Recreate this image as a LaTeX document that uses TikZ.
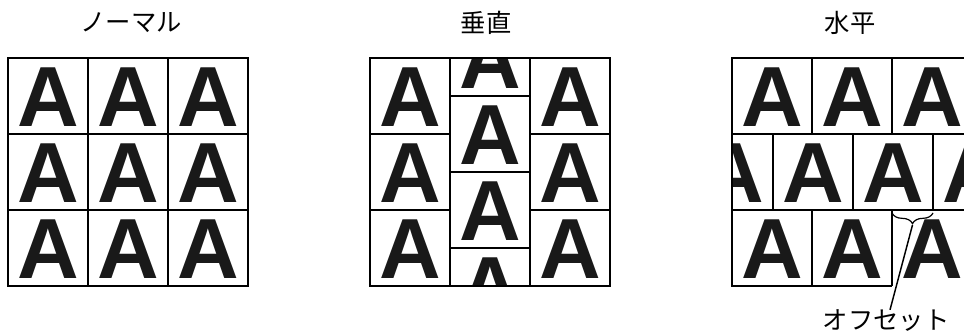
\documentclass[tikz,border=0pt]{standalone}
\usepackage{fontspec}
\setmainfont{Liberation Sans}
\newfontfamily\jpfont{Noto Sans CJK JP}
\newfontfamily\glyphfont{Liberation Sans}
\usetikzlibrary{decorations.pathreplacing}
\tikzset{
  gridline/.style={line width=0.8pt, black},
  bigA/.style={anchor=base, inner sep=0pt, outer sep=0pt, font=\glyphfont\bfseries\fontsize{64}{64}\selectfont, text=black!90},
  title/.style={font=\jpfont\fontsize{19}{19}\selectfont, inner sep=0pt},
  bracestyle/.style={decorate, decoration={brace, amplitude=8pt}, line width=0.9pt},
  pointer/.style={line width=1.1pt}
}
\newcommand{\PutA}[3]{\node[bigA] (#1) at (#2,#3) {A};}
\begin{document}
\begin{tikzpicture}[x=0.75pt,y=-0.75pt]
\useasboundingbox (0,0) rectangle (964,331);

% titles
\node[title] (t1) at (131,23) {ノーマル};
\node[title] (t2) at (486,23) {垂直};
\node[title] (t3) at (850,23) {水平};

% ---------- normal ----------
\foreach \i/\cx in {1/48,2/128,3/208}{
  \foreach \j/\by in {1/127,2/203,3/279}{
    \PutA{n\i\j}{\cx}{\by}
  }
}
\draw[gridline] (8,58) rectangle (248,286);
\draw[gridline] (88,58) -- (88,286) (168,58) -- (168,286);
\draw[gridline] (8,134) -- (248,134) (8,210) -- (248,210);

% ---------- vertical ----------
\foreach \j/\by in {1/127,2/203,3/279}{
  \PutA{vl\j}{410}{\by}
  \PutA{vr\j}{570}{\by}
}
\begin{scope}
  \clip (450,58) rectangle (530,286);
  \foreach \j/\by in {1/89,2/165,3/241,4/317}{
    \PutA{vm\j}{490}{\by}
  }
\end{scope}
\draw[gridline] (370,58) rectangle (610,286);
\draw[gridline] (450,58) -- (450,286) (530,58) -- (530,286);
\draw[gridline] (370,134) -- (450,134) (370,210) -- (450,210);
\draw[gridline] (530,134) -- (610,134) (530,210) -- (610,210);
\draw[gridline] (450,96) -- (530,96) (450,172) -- (530,172) (450,248) -- (530,248);

% ---------- horizontal ----------
\begin{scope}
  \clip (732,0) rectangle (964,331);
  \foreach \i/\cx in {1/772,2/852,3/932}{
    \PutA{ha\i}{\cx}{127}
  }
  \foreach \i/\cx in {1/733,2/813,3/893,4/973}{
    \PutA{hb\i}{\cx}{203}
  }
  \foreach \i/\cx in {1/772,2/852,3/932}{
    \PutA{hc\i}{\cx}{279}
  }
\end{scope}
\draw[gridline] (964,58) -- (732,58) -- (732,286) -- (892,286);
\draw[gridline] (732,134) -- (964,134) (732,210) -- (964,210);
\draw[gridline] (812,58) -- (812,134) (892,58) -- (892,134);
\draw[gridline] (773,134) -- (773,210) (853,134) -- (853,210) (933,134) -- (933,210);
\draw[gridline] (812,210) -- (812,286) (892,210) -- (892,286);

% offset brace and label
\coordinate (bR) at (933,213);
\coordinate (bL) at (892,213);
\draw[bracestyle] (bR) -- (bL);
\coordinate (tip) at (912.5,225);
\node[title] (lbl) at (886,321) {オフセット};
\draw[pointer] (tip) -- ([xshift=3pt]lbl.north);
\end{tikzpicture}
\end{document}
